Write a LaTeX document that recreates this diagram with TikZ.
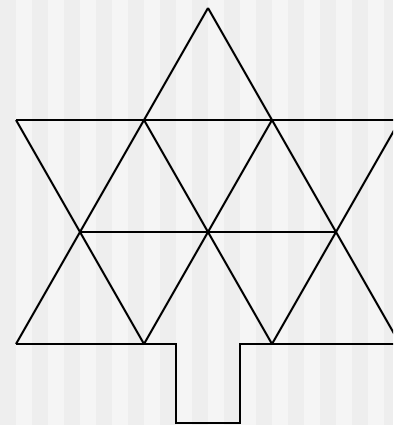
\documentclass[tikz,border=0pt]{standalone}
\definecolor{stripeA}{HTML}{EEEEEE}
\definecolor{stripeB}{HTML}{F5F5F5}
\tikzset{treeline/.style={draw=black, line width=2pt, line join=miter}}
\begin{document}
\begin{tikzpicture}[x=1pt, y=-1pt]
\useasboundingbox (0,0) rectangle (393,425);
\clip (0,0) rectangle (393,425);
\fill[stripeA] (0,0) rectangle (393,425);
\foreach \i in {0,...,12} {
  \fill[stripeB] ({16+32*\i},0) rectangle ({32+32*\i},425);
}
% key points
\coordinate (A) at (208,8);
\coordinate (L1) at (16,120);
\coordinate (P1) at (144,120);
\coordinate (Q1) at (272,120);
\coordinate (R1) at (400,120);
\coordinate (L2) at (80,232);
\coordinate (M2) at (208,232);
\coordinate (R2) at (336,232);
\coordinate (L3) at (16,344);
\coordinate (P3) at (144,344);
\coordinate (Q3) at (272,344);
\coordinate (R3) at (400,344);
\coordinate (T1) at (176,344);
\coordinate (T2) at (176,423);
\coordinate (T3) at (240,423);
\coordinate (T4) at (240,344);
% horizontals
\draw[treeline] (L1) -- (R1);
\draw[treeline] (L2) -- (R2);
\draw[treeline] (L3) -- (T1) -- (T2) -- (T3) -- (T4) -- (R3);
% slanted "/"
\draw[treeline] (A) -- (L3);
\draw[treeline] (Q1) -- (P3);
\draw[treeline] (R1) -- (Q3);
% slanted "\"
\draw[treeline] (A) -- (R3);
\draw[treeline] (P1) -- (Q3);
\draw[treeline] (L1) -- (P3);
\end{tikzpicture}
\end{document}
